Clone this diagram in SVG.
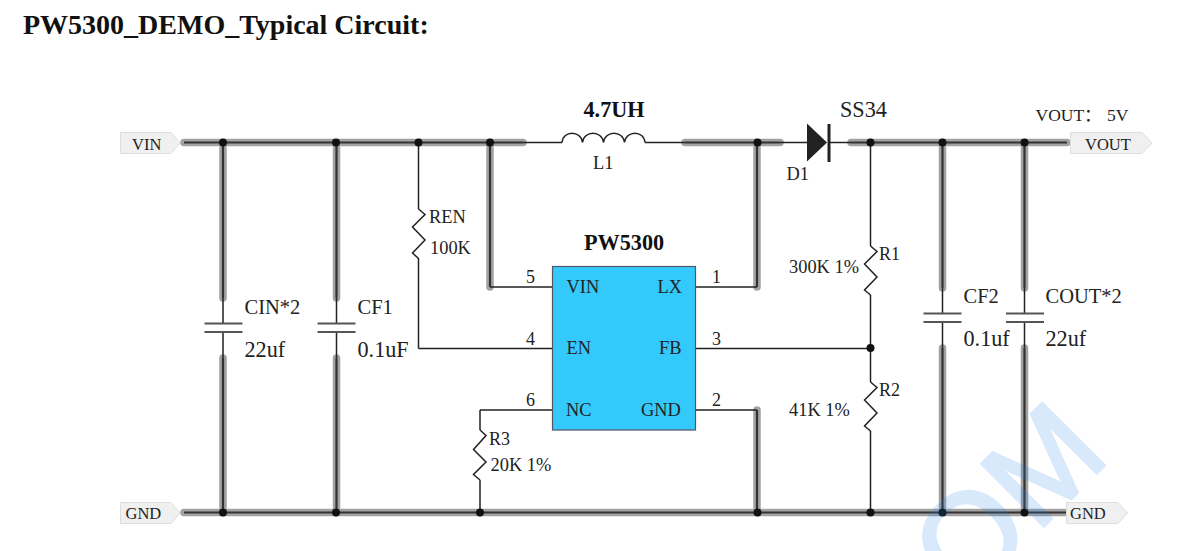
<svg xmlns="http://www.w3.org/2000/svg" width="1192" height="551" viewBox="0 0 1192 551">
<style>
text{font-family:"Liberation Serif","Times New Roman",serif;fill:#222;font-size:18.400px}
.b{font-weight:bold;fill:#111}
.s{font-size:18px}.m{font-size:20.500px}.l{font-size:22.200px}.t{font-size:16.500px}
.halo{fill:none;stroke:#a2a2a2;stroke-width:7.500;stroke-linecap:round;stroke-linejoin:round}
.core{fill:none;stroke:#333;stroke-width:2.200}
.w{fill:none;stroke:#222;stroke-width:1.500}
.plate{fill:none;stroke:#555;stroke-width:1.800}
.tag{fill:#f0f0f0;stroke:#ddd;stroke-width:1}
.dot{fill:#111}
</style>
<defs>
<circle id="j" r="4" class="dot"/>
<g id="cap"><path class="plate" d="M-19 0H19M-19 8.500H19"/></g>
</defs>
<text id="title" class="b" x="23" y="34" style="font-size:28px">PW5300_DEMO_Typical Circuit:</text>
<g id="connectors">
<path class="halo" d="M184 142.500H523M223 142.500V298M223 358V512.500M336.500 142.500V298M336.500 358V512.500M490 142.500V287M685 142.500H780M757 142.500V287M757 410V512.500M851 142.500H1067M942.500 142.500V288M942.500 348V512.500M1024.500 142.500V288M1024.500 348V512.500M184 512.500H1067"/>
<path class="core" d="M184 142.500H523M223 142.500V298M223 358V512.500M336.500 142.500V298M336.500 358V512.500M490 142.500V287M685 142.500H780M757 142.500V287M757 410V512.500M851 142.500H1067M942.500 142.500V288M942.500 348V512.500M1024.500 142.500V288M1024.500 348V512.500M184 512.500H1067"/>
<path class="w" d="M223 298V323.500M223 332V358M336.500 298V323.500M336.500 332V358M942.500 288V313.500M942.500 321.500V348M1024.500 288V313.500M1024.500 321.500V348"/>
<path class="w" d="M523 142.500H562M645 142.500H685M780 142.500H807M829 142.500H851"/>
<path class="w" d="M490 287H552M695 287H757M418.500 348.500H552M695 348.500H870.500M480 410H552M695 410H757M870.500 142.500V246M870.500 295V382M870.500 431V512.500M418.500 142.500V209M418.500 258V348.500M480 410V430M480 480V512.500"/>
</g>
<g id="VIN"><polygon class="tag" points="120.500,132.500 171,132.500 180,143 171,153.500 120.500,153.500"/><text class="t" x="132" y="149.500">VIN</text></g>
<g id="GND-left"><polygon class="tag" points="120.500,502.500 171,502.500 180,513 171,523.500 120.500,523.500"/><text class="t" x="125.500" y="519">GND</text></g>
<g id="VOUT"><polygon class="tag" points="1070.500,132.500 1142,132.500 1152,143 1142,153.500 1070.500,153.500"/><text class="t" x="1085" y="149.500">VOUT</text></g>
<g id="GND-right"><polygon class="tag" points="1066.500,502.500 1118,502.500 1127.500,513 1118,523.500 1066.500,523.500"/><text class="t" x="1070" y="519">GND</text></g>
<g id="junctions">
<use href="#j" x="223" y="142.500"/><use href="#j" x="336" y="142.500"/><use href="#j" x="418.500" y="142.500"/><use href="#j" x="490" y="142.500"/><use href="#j" x="757.500" y="142.500"/><use href="#j" x="870.500" y="142.500"/><use href="#j" x="942.500" y="142.500"/><use href="#j" x="1024.500" y="142.500"/>
<use href="#j" x="870.500" y="348"/>
<use href="#j" x="223" y="512.500"/><use href="#j" x="336" y="512.500"/><use href="#j" x="480" y="512.500"/><use href="#j" x="757.500" y="512.500"/><use href="#j" x="870.500" y="512.500"/><use href="#j" x="942.500" y="512.500"/><use href="#j" x="1024.500" y="512.500"/>
</g>
<g id="CIN"><use href="#cap" x="223.500" y="323.500"/><text class="m" x="244.500" y="314">CIN*2</text><text class="l" x="244.500" y="357">22uf</text></g>
<g id="CF1"><use href="#cap" x="336.500" y="323.500"/><text class="m" x="357.500" y="314">CF1</text><text class="l" x="357.500" y="357">0.1uF</text></g>
<g id="CF2"><use href="#cap" x="942.500" y="313.500"/><text class="m" x="963.500" y="303">CF2</text><text class="l" x="963.500" y="346">0.1uf</text></g>
<g id="COUT"><use href="#cap" x="1025" y="313.500"/><text class="m" x="1045.500" y="303">COUT*2</text><text class="l" x="1045.500" y="346">22uf</text></g>
<g id="REN"><path class="w" d="M418.500 209L425 214.500L412.500 227L425 240L412.500 253L418.500 258.500"/><text x="429" y="223">REN</text><text x="430" y="254">100K</text></g>
<g id="R3"><path class="w" d="M480 430L486 435.500L473.500 449.500L486 462L473.500 474.500L480 480"/><text class="s" x="489" y="445">R3</text><text x="490.500" y="471">20K 1%</text></g>
<g id="R1"><path class="w" d="M870.500 246L877 251.500L864.500 264L877 277L864.500 290L870.500 295"/><text class="s" x="879" y="260">R1</text><text x="789" y="272.500">300K 1%</text></g>
<g id="R2"><path class="w" d="M870.500 382L877 387.500L864.500 400L877 413L864.500 426L870.500 431"/><text class="s" x="879" y="396">R2</text><text x="789" y="416">41K 1%</text></g>
<g id="L1"><path class="w" d="M562 142.500C563 130 581 130 582.500 142.500C584 130 602 130 603.500 142.500C605 130 623 130 624.500 142.500C626 130 644 130 645 142.500"/><text class="b l" x="583.500" y="116.500">4.7UH</text><text x="593" y="169">L1</text></g>
<g id="D1"><polygon fill="#222" points="807,123.500 827,142.500 807,161.500"/><path fill="none" stroke="#222" stroke-width="3" d="M829 124V162"/><text class="l" x="840" y="116.500">SS34</text><text x="786.500" y="180">D1</text></g>
<g id="U1">
<rect x="552.500" y="266.500" width="143" height="163.500" fill="#33c9fa" stroke="#556" stroke-width="1.200"/>
<text class="b l" x="584" y="250">PW5300</text>
<text x="566.500" y="293">VIN</text><text x="657.500" y="293">LX</text>
<text x="566.500" y="354">EN</text><text x="659" y="354">FB</text>
<text x="566" y="416">NC</text><text x="641" y="416">GND</text>
<text class="s" x="526" y="283">5</text><text class="s" x="526" y="344.500">4</text><text class="s" x="526" y="405.500">6</text>
<text class="s" x="712" y="283">1</text><text class="s" x="712" y="345">3</text><text class="s" x="712" y="405.500">2</text>
</g>
<text id="vout-label" x="1035.500" y="120.500" style="font-size:17.500px;font-family:'Liberation Serif','Noto Sans CJK SC',serif">VOUT：<tspan x="1107">5V</tspan></text>
<text id="watermark" transform="translate(966 604) rotate(-45)" opacity=".17" style="font-family:'Liberation Sans',sans-serif;font-size:128px;fill:#1e82f0;stroke:#1e82f0;stroke-width:3">OM</text>
</svg>
